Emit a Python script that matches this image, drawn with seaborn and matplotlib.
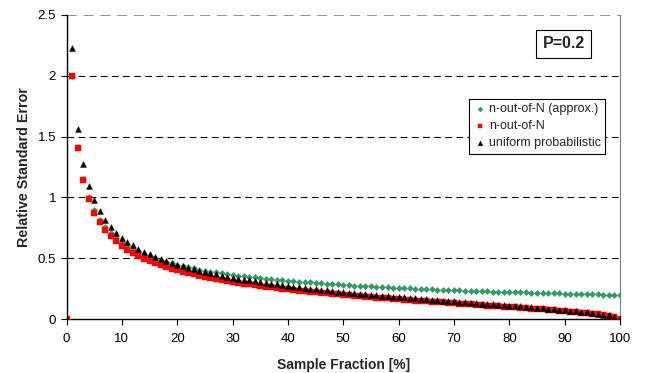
import numpy as np
import pandas as pd
import seaborn as sns
import matplotlib.pyplot as plt

fraction = list(range(0, 101))

approx = [0, 2.000, 1.414, 1.155, 1.000, 0.894, 0.816, 0.756, 0.707, 0.667, 0.632,
          0.603, 0.577, 0.555, 0.535, 0.516, 0.500, 0.485, 0.471, 0.459, 0.447,
          0.436, 0.426, 0.417, 0.408, 0.400, 0.392, 0.385, 0.378, 0.371, 0.365,
          0.359, 0.354, 0.348, 0.343, 0.338, 0.333, 0.329, 0.324, 0.320, 0.316,
          0.312, 0.309, 0.305, 0.302, 0.298, 0.295, 0.292, 0.289, 0.286, 0.283,
          0.280, 0.277, 0.275, 0.272, 0.270, 0.267, 0.265, 0.263, 0.260, 0.258,
          0.256, 0.254, 0.252, 0.250, 0.248, 0.246, 0.244, 0.243, 0.241, 0.239,
          0.237, 0.236, 0.234, 0.232, 0.231, 0.229, 0.228, 0.226, 0.225, 0.224,
          0.222, 0.221, 0.220, 0.218, 0.217, 0.216, 0.214, 0.213, 0.212, 0.211,
          0.210, 0.209, 0.207, 0.206, 0.205, 0.204, 0.203, 0.202, 0.201, 0.200]

n_out_of_n = [0, 2.000, 1.407, 1.143, 0.985, 0.876, 0.796, 0.733, 0.682, 0.639, 0.603,
              0.572, 0.544, 0.520, 0.498, 0.478, 0.461, 0.444, 0.429, 0.415, 0.402,
              0.390, 0.378, 0.368, 0.358, 0.348, 0.339, 0.331, 0.322, 0.315, 0.307,
              0.300, 0.293, 0.286, 0.280, 0.274, 0.268, 0.262, 0.257, 0.251, 0.246,
              0.241, 0.236, 0.231, 0.227, 0.222, 0.218, 0.213, 0.209, 0.205, 0.201,
              0.197, 0.193, 0.189, 0.186, 0.182, 0.178, 0.175, 0.171, 0.168, 0.164,
              0.161, 0.157, 0.154, 0.151, 0.148, 0.144, 0.141, 0.138, 0.135, 0.132,
              0.128, 0.125, 0.122, 0.119, 0.116, 0.113, 0.110, 0.107, 0.104, 0.101,
              0.097, 0.094, 0.091, 0.088, 0.084, 0.081, 0.078, 0.074, 0.071, 0.067,
              0.063, 0.059, 0.055, 0.051, 0.046, 0.041, 0.035, 0.029, 0.020, 0.000]

uniform = [0, 2.225, 1.565, 1.272, 1.095, 0.975, 0.885, 0.815, 0.758, 0.711, 0.671,
           0.636, 0.606, 0.578, 0.554, 0.532, 0.512, 0.494, 0.477, 0.462, 0.447,
           0.434, 0.421, 0.409, 0.398, 0.387, 0.377, 0.368, 0.359, 0.350, 0.342,
           0.334, 0.326, 0.319, 0.312, 0.305, 0.298, 0.292, 0.286, 0.280, 0.274,
           0.268, 0.263, 0.257, 0.252, 0.247, 0.242, 0.237, 0.233, 0.228, 0.224,
           0.219, 0.215, 0.211, 0.206, 0.202, 0.198, 0.194, 0.190, 0.186, 0.183,
           0.179, 0.175, 0.171, 0.168, 0.164, 0.161, 0.157, 0.153, 0.150, 0.146,
           0.143, 0.139, 0.136, 0.132, 0.129, 0.126, 0.122, 0.119, 0.115, 0.112,
           0.108, 0.105, 0.101, 0.098, 0.094, 0.090, 0.086, 0.083, 0.079, 0.075,
           0.070, 0.066, 0.061, 0.057, 0.051, 0.046, 0.039, 0.032, 0.022, 0.000]

sns.set_style('white')
plt.rcParams['font.family'] = ['Liberation Sans', 'DejaVu Sans']

fig = plt.figure(figsize=(6.6, 3.73), dpi=100)
ax = fig.add_axes([0.1008, 0.144, 0.8386, 0.8166])

sns.scatterplot(x=fraction, y=approx, ax=ax, marker='D', s=10, color='#339966',
                edgecolor='#339966', linewidth=0.3, label='n-out-of-N (approx.)', zorder=3)
sns.scatterplot(x=fraction, y=n_out_of_n, ax=ax, marker='s', s=14, color='#ff0000',
                edgecolor='#ff0000', linewidth=0.3, label='n-out-of-N', zorder=4)
sns.scatterplot(x=fraction, y=uniform, ax=ax, marker='^', s=18, color='black',
                edgecolor='black', linewidth=0.3, label='uniform probabilistic', zorder=5)

ax.set_xlim(0, 100)
ax.set_ylim(0, 2.5)
ax.set_xticks(range(0, 101, 10))
ax.set_yticks([0, 0.5, 1, 1.5, 2, 2.5])
ax.set_yticklabels(['0', '0.5', '1', '1.5', '2', '2.5'])
ax.tick_params(axis='both', direction='out', length=4, width=0.8, labelsize=9.5,
               colors='black', bottom=True, left=True)
ax.tick_params(axis='x', pad=6)

for yv in [0.5, 1, 1.5, 2]:
    ax.axhline(yv, color='black', linestyle=(0, (6, 4)), linewidth=0.8, zorder=1)
ax.axhline(2.5, color='#808080', linestyle=(0, (6, 4)), linewidth=1.2, zorder=1)

ax.spines['top'].set_visible(False)
ax.spines['left'].set_color('black')
ax.spines['bottom'].set_color('black')
ax.spines['left'].set_linewidth(1.0)
ax.spines['bottom'].set_linewidth(1.0)
ax.spines['right'].set_color('#808080')
ax.spines['right'].set_linewidth(0.8)

ax.set_xlabel('Sample Fraction [%]', fontsize=10, fontweight='bold', labelpad=9)
ax.set_ylabel('Relative Standard Error', fontsize=10.3, fontweight='bold', labelpad=5)

leg = ax.legend(loc='upper right', bbox_to_anchor=(0.973, 0.723), fontsize=9,
                frameon=True, fancybox=False, edgecolor='black', framealpha=1,
                handletextpad=0.2, handlelength=1.0, borderpad=0.35,
                labelspacing=0.4, markerscale=0.8, borderaxespad=0)
leg.get_frame().set_linewidth(0.8)

ax.text(0.8986, 0.905, 'P=0.2', transform=ax.transAxes, fontsize=11.5, fontweight='bold',
        ha='center', va='center',
        bbox=dict(boxstyle='square,pad=0.4', facecolor='white', edgecolor='black', linewidth=0.8))

plt.savefig('out.png', dpi=100)
